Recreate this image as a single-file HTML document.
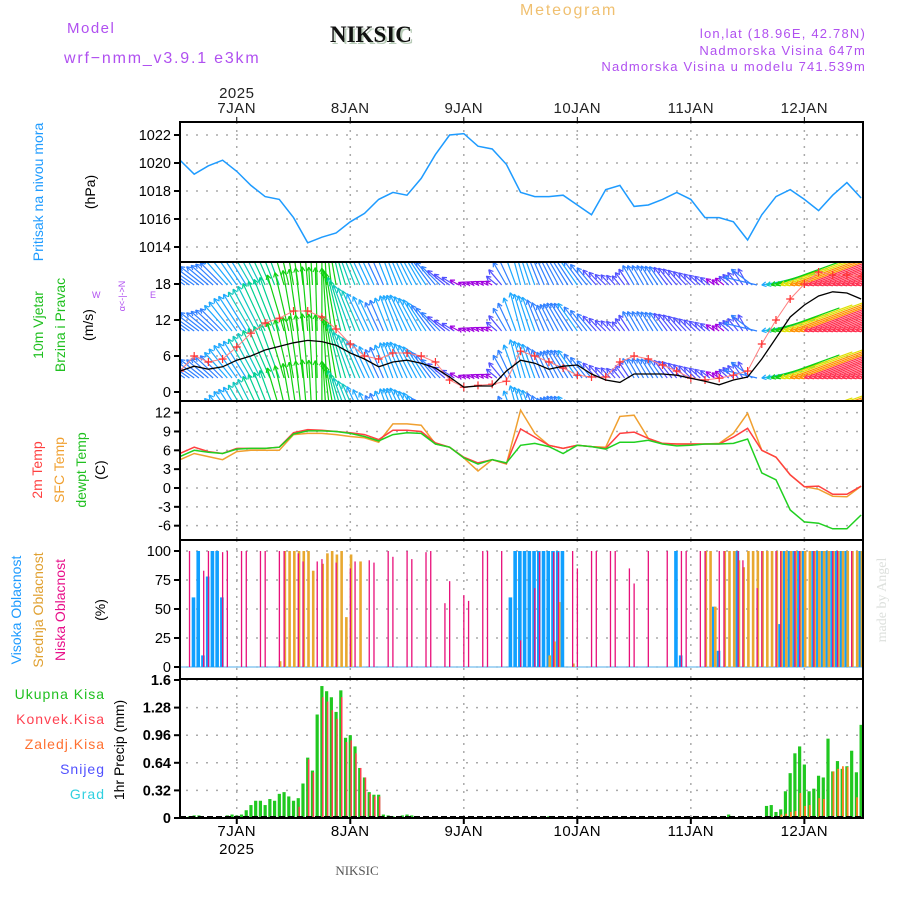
<!DOCTYPE html>
<html><head><meta charset="utf-8"><title>Meteogram NIKSIC</title>
<style>
html,body{margin:0;padding:0;background:#fff;}
svg{display:block;font-family:"Liberation Sans",sans-serif;}
</style></head>
<body>
<svg id="chart" width="900" height="900" viewBox="0 0 900 900" xmlns="http://www.w3.org/2000/svg">
<g id="header">
  <text x="67" y="33" font-size="15" fill="#b050f0" letter-spacing="1.5">Model</text>
  <text x="64" y="63" font-size="16" fill="#b050f0" letter-spacing="1.8">wrf−nmm_v3.9.1 e3km</text>
  <text x="332" y="44" font-size="23" font-weight="bold" font-family="Liberation Serif,serif" fill="#b8ccb8">NIKSIC</text>
  <text x="330" y="42" font-size="23" font-weight="bold" font-family="Liberation Serif,serif" fill="#111">NIKSIC</text>
  <text x="520" y="15" font-size="16" fill="#f0c070" letter-spacing="1.8">Meteogram</text>
  <text x="866" y="38" font-size="13" fill="#b050f0" text-anchor="end" letter-spacing="1.2">lon,lat (18.96E, 42.78N)</text>
  <text x="866" y="55" font-size="13" fill="#b050f0" text-anchor="end" letter-spacing="1.2">Nadmorska Visina 647m</text>
  <text x="866" y="71" font-size="13" fill="#b050f0" text-anchor="end" letter-spacing="1.2">Nadmorska Visina u modelu 741.539m</text>
  <text x="357" y="875" font-size="13" font-family="Liberation Serif,serif" fill="#555" text-anchor="middle">NIKSIC</text>
  <text transform="translate(886,600) rotate(-90)" font-size="14" font-family="Liberation Serif,serif" fill="#dde0dd" text-anchor="middle">made by Angel</text>
</g>
<g id="labels">
  <text transform="translate(43,192) rotate(-90)" font-size="14" fill="#1e9bff" text-anchor="middle">Pritisak na nivou mora</text>
  <text transform="translate(95,192) rotate(-90)" font-size="14" fill="#000" text-anchor="middle">(hPa)</text>
  <text transform="translate(43,325) rotate(-90)" font-size="14" fill="#20c020" text-anchor="middle">10m Vjetar</text>
  <text transform="translate(65,325) rotate(-90)" font-size="14" fill="#20c020" text-anchor="middle">Brzina i Pravac</text>
  <text transform="translate(93,325) rotate(-90)" font-size="14" fill="#000" text-anchor="middle">(m/s)</text>
  <text x="92" y="298" font-size="9" fill="#b050f0">W</text>
  <text x="150" y="298" font-size="9" fill="#b050f0">E</text>
  <text transform="translate(125,296) rotate(-90)" font-size="9" fill="#b050f0" text-anchor="middle">α&lt;-|-&gt;N</text>
  <text transform="translate(42,470) rotate(-90)" font-size="14" fill="#ff4040" text-anchor="middle">2m Temp</text>
  <text transform="translate(64,470) rotate(-90)" font-size="14" fill="#f0a030" text-anchor="middle">SFC Temp</text>
  <text transform="translate(86,470) rotate(-90)" font-size="14" fill="#20c020" text-anchor="middle">dewpt Temp</text>
  <text transform="translate(105,470) rotate(-90)" font-size="14" fill="#000" text-anchor="middle">(C)</text>
  <text transform="translate(21,610) rotate(-90)" font-size="14" fill="#1e9bff" text-anchor="middle">Visoka Oblacnost</text>
  <text transform="translate(43,610) rotate(-90)" font-size="14" fill="#e0a030" text-anchor="middle">Srednja Oblacnost</text>
  <text transform="translate(65,610) rotate(-90)" font-size="14" fill="#e8108a" text-anchor="middle">Niska Oblacnost</text>
  <text transform="translate(105,610) rotate(-90)" font-size="14" fill="#000" text-anchor="middle">(%)</text>
  <text x="105" y="699" font-size="14" fill="#20c020" text-anchor="end" letter-spacing="1">Ukupna Kisa</text>
  <text x="105" y="724" font-size="14" fill="#ff4050" text-anchor="end" letter-spacing="1">Konvek.Kisa</text>
  <text x="105" y="749" font-size="14" fill="#ff7030" text-anchor="end" letter-spacing="1">Zaledj.Kisa</text>
  <text x="105" y="774" font-size="14" fill="#5050ff" text-anchor="end" letter-spacing="1">Snijeg</text>
  <text x="105" y="799" font-size="14" fill="#30d0e0" text-anchor="end" letter-spacing="1">Grad</text>
  <text transform="translate(124,750) rotate(-90)" font-size="14" fill="#000" text-anchor="middle">1hr Precip (mm)</text>
</g>
<g id="plot"></g>
</svg>
<script>
// ---- data (3-hourly, starting 6 JAN 12:00) ----
const pressure = [1020.2,1019.2,1019.8,1020.2,1019.4,1018.4,1017.6,1017.4,1016.1,1014.3,1014.7,1015.0,1015.8,1016.4,1017.4,1017.9,1017.7,1018.9,1020.6,1022.0,1022.1,1021.2,1021.0,1019.9,1017.9,1017.6,1017.6,1017.7,1017.0,1016.3,1018.1,1018.4,1016.9,1017.0,1017.4,1017.9,1017.4,1016.1,1016.1,1015.8,1014.5,1016.3,1017.6,1018.1,1017.4,1016.6,1017.7,1018.6,1017.5];
const windSpeed = [3.5,4.3,3.8,4.2,5.3,6.0,7.0,7.6,8.2,8.6,8.4,7.8,6.5,5.5,4.2,5.0,5.3,4.8,4.0,2.5,0.8,1.0,1.0,3.5,5.3,4.8,3.8,4.3,4.5,3.0,2.0,1.6,3.0,3.0,3.0,2.8,2.3,1.8,1.2,2.0,2.5,5.5,9.0,12.5,14.5,16.0,16.7,16.5,15.5];
const windGust = [3.5,6.0,5.0,5.5,7.5,9.8,11.5,12.3,13.5,13.5,12.5,10.5,8.0,6.0,5.5,6.5,6.5,6.0,5.0,2.0,0.8,1.1,1.3,1.8,6.8,6.0,5.0,4.0,2.8,2.5,2.5,5.0,6.0,5.5,4.5,3.5,2.3,2.0,2.3,2.8,3.5,8.0,12.0,15.5,18.0,20.0,19.5,19.5,19.3];
// direction the arrow points, degrees counter-clockwise from "up" (90 = left, 110 = down-left)
const windDir = [55,55,50,45,35,30,25,20,10,5,0,10,20,25,25,20,25,30,40,55,65,65,60,30,15,20,25,30,35,40,45,40,30,30,35,40,45,50,55,45,30,100,110,110,110,110,110,110,110];
const temp2m = [5.5,6.5,5.8,5.5,6.3,6.3,6.3,6.5,8.8,9.3,9.2,9.0,8.8,8.5,7.7,9.2,9.2,9.0,7.2,6.5,4.9,4.0,4.5,3.9,9.4,8.1,6.8,6.3,6.8,6.6,6.3,8.7,8.9,7.9,7.1,7.0,7.0,7.0,7.0,8.1,9.5,6.0,4.9,2.1,0.2,0.3,-1.0,-1.0,0.3];
const tempSfc = [4.5,5.5,5.0,4.5,5.8,6.0,6.0,6.0,8.5,8.7,8.7,8.5,8.2,8.0,7.3,10.2,10.2,10.0,7.0,6.5,4.8,2.7,4.5,3.8,12.4,8.7,6.8,6.3,6.8,6.6,6.5,11.4,11.6,7.9,7.1,7.0,7.0,7.0,7.1,8.7,11.9,6.0,4.9,2.1,0.2,-0.2,-1.3,-1.4,0.3];
const tempDew = [5.0,6.0,5.7,5.5,6.2,6.3,6.3,6.5,8.6,9.1,9.1,9.0,8.7,8.2,7.5,8.5,8.8,8.7,7.0,6.5,4.8,3.8,4.5,4.0,6.8,7.1,6.6,5.5,6.8,6.6,6.2,7.3,7.3,7.6,7.0,6.7,6.8,7.0,7.0,7.1,7.8,2.4,1.3,-3.5,-5.4,-5.6,-6.5,-6.5,-4.3];
// ---- hourly data as (hour index, value) pairs ----
const precipHours = [2,3,4,10,11,12,13,14,15,16,17,18,19,20,21,22,23,24,25,26,27,28,29,30,31,32,33,34,35,36,37,38,39,40,41,42,43,44,45,46,47,48,49,77,78,79,97,98,115,116,117,124,125,126,127,128,129,130,131,132,133,134,135,136,137,138,139,140,141,142,143,144];
const precipTotal = [0.02,0.03,0.03,0.03,0.04,0.03,0.04,0.09,0.15,0.2,0.2,0.15,0.22,0.2,0.28,0.3,0.25,0.2,0.23,0.4,0.7,0.55,1.2,1.53,1.47,1.4,1.23,1.48,0.93,0.96,0.83,0.58,0.47,0.3,0.27,0.27,0.04,0.03,0.02,0.02,0.03,0.04,0.03,0.01,0.02,0.01,0.01,0.01,0.01,0.04,0.02,0.14,0.15,0.07,0.1,0.31,0.52,0.75,0.83,0.62,0.31,0.34,0.49,0.47,0.92,0.54,0.66,0.57,0.6,0.78,0.53,1.08];
const convHours = [25,27,28,30,31,32,33,34,35,36,37,38,39,40,41,42];
const convVals = [0.13,0.68,0.53,1.4,1.35,1.25,1.15,1.4,0.88,0.9,0.75,0.58,0.47,0.28,0.25,0.25];
const frzHours = [126,127,128,129,130,131,132,133,135,136,138,139,140,141,143];
const frzVals = [0.02,0.04,0.05,0.07,0.08,0.29,0.14,0.15,0.23,0.22,0.54,0.57,0.6,0.59,0.24];
const highHours = [3,4,5,6,7,8,9,70,71,72,73,74,75,76,77,78,79,80,81,105,106,113,114,118,127,128,129,130,131,132,134,135,136,137,138,139,140,141,144];
const highVals = [60,100,10,78,100,100,60,60,100,100,100,100,100,100,100,100,100,100,100,100,10,52,14,100,37,100,100,100,100,100,100,100,100,100,100,100,100,100,100];
const midHours = [21,22,23,24,25,26,27,28,30,31,32,33,34,35,36,38,78,79,80,83,111,112,113,115,116,117,118,119,120,121,122,123,124,125,126,127,128,129,130,131,132,133,134,135,136,137,138,139,140,141,142,143,144];
const midVals = [5,100,100,100,100,100,100,83,89,98,100,97,100,43,97,91,10,22,56,3,100,100,52,100,100,100,92,86,100,100,100,100,100,100,100,100,100,100,100,100,100,100,100,100,100,100,100,100,100,100,100,100,100];
const lowHours = [2,5,6,9,10,13,14,17,18,21,22,25,26,29,30,33,36,37,40,41,44,45,48,49,52,53,56,57,60,61,64,65,68,72,75,76,79,80,83,84,87,88,91,92,95,96,99,103,106,107,110,111,114,115,118,119,122,123,126,127,130,131,134,138,139,142];
const lowVals = [100,83,100,99,100,100,100,100,100,100,100,98,91,91,93,90,85,91,92,90,100,95,100,93,99,100,55,74,62,57,100,100,100,23,68,99,99,99,100,85,100,100,100,100,85,72,100,100,100,100,100,100,100,100,100,92,68,100,100,100,100,100,100,100,100,100];
const dayLabels = ["7JAN","8JAN","9JAN","10JAN","11JAN","12JAN"];
const dayHours = [12,36,60,84,108,132];
const pTicks = [1014,1016,1018,1020,1022];
const wTicks = [0,6,12,18];
const tTicks = [-6,-3,0,3,6,9,12];
const cTicks = [0,25,50,75,100];
const rTicks = [0,0.32,0.64,0.96,1.28,1.6];

// ---- scales ----
const X0=180, X1=863, PX_H=4.73;
const xH = h => X0 + h*PX_H;
const xK = k => xH(k*3);
const yP = p => 135 + (1022-p)*14;
const yW = v => 392 - v*6;
const yT = t => 488 - t*6.28;
const yC = c => 667 - c*1.16;
const yR = r => 818 - r*86.25;
const panels = [[122,262],[262,401],[401,540],[540,679],[679,818]];

const NS="http://www.w3.org/2000/svg";
const plot=document.getElementById('plot');
function mk(tag,attrs,parent){const e=document.createElementNS(NS,tag);for(const k in attrs)e.setAttribute(k,attrs[k]);(parent||plot).appendChild(e);return e;}

const defs=mk('defs',{});
panels.forEach((p,i)=>{const c=mk('clipPath',{id:'clip'+i},defs);mk('rect',{x:X0,y:p[0],width:X1-X0,height:p[1]-p[0]},c);});

function grid(pi,ticks,yf,fmt,gname){
  const g=mk('g',{});
  
  
  const [t,b]=panels[pi];
  dayHours.forEach(h=>{const l=mk('line',{x1:xH(h),x2:xH(h),y1:t,y2:b,stroke:'#aaa','stroke-width':1.5,'stroke-dasharray':'2 6'},g);
    
    });
  ticks.forEach(v=>{const y=yf(v);
    const l=mk('line',{x1:X0+6,x2:X1,y1:y,y2:y,stroke:'#aaa','stroke-width':1.5,'stroke-dasharray':'2 8'},g);
    
    
    const tk=mk('line',{x1:X0-6,x2:X0,y1:y,y2:y,stroke:'#000','stroke-width':2},g);
    
    
    const tx=mk('text',{x:X0-9,y:y+5,'font-size':14.5,'text-anchor':'end',fill:'#000','font-weight':pi===4?'bold':'normal'},g);
    tx.textContent=fmt(v);
    
    });
  return g;
}
grid(0,pTicks,yP,v=>v,'pressure-grid');
grid(1,wTicks,yW,v=>v,'wind-grid');
grid(2,tTicks,yT,v=>v,'temp-grid');
grid(3,cTicks,yC,v=>v,'cloud-grid');
grid(4,rTicks,yR,v=>String(v),'precip-grid');

function line(arr,xf,yf,color,w,clip,name){
  const pts=arr.map((v,k)=>xf(k).toFixed(1)+','+yf(v).toFixed(1)).join(' ');
  const e=mk('polyline',{points:pts,fill:'none',stroke:color,'stroke-width':w,'clip-path':'url(#clip'+clip+')'});
  
  
  return e;
}
line(pressure,xK,yP,'#1e9bff',1.5,0,'pressure-line');

function windColor(s){
  if(s<1.5) return '#a000e0';
  if(s<3) return '#5050ff';
  if(s<4.5) return '#3080ff';
  if(s<5.8) return '#1ea8ff';
  if(s<6.8) return '#10c8c0';
  if(s<7.8) return '#00d090';
  if(s<10) return '#10d010';
  if(s<12) return '#e0e000';
  if(s<14) return '#ff9000';
  return '#ff3050';
}
const wg=mk('g',{'clip-path':'url(#clip1)'});


const rowBases=[238,285,331,378,424];
for(let h=0;h<=145;h++){
  const kf=Math.min(h/3,windSpeed.length-1), k0=Math.floor(kf), k1=Math.min(k0+1,windSpeed.length-1), f=kf-k0;
  const s=windSpeed[k0]*(1-f)+windSpeed[k1]*f;
  const a=(windDir[k0]*(1-f)+windDir[k1]*f)*Math.PI/180;
  const L=Math.max(7.5*s,6);
  const x=xH(h), col=windColor(s);
  const dx=-Math.sin(a), dy=-Math.cos(a);
  rowBases.forEach(b=>{
    let tx,ty,hx,hy;
    if(Math.cos(a)>=0){tx=x;ty=b;hx=x+L*dx;hy=b+L*dy;}
    else{hx=x;hy=b;tx=x-L*dx;ty=b-L*dy;}
    const ar=mk('line',{x1:tx,y1:ty,x2:hx,y2:hy,stroke:col,'stroke-width':1.2},wg);
    
    
    const ang=Math.atan2(hy-ty,hx-tx);
    [0.5,-0.5].forEach(d=>{
      const hl=mk('line',{x1:hx,y1:hy,x2:hx-5*Math.cos(ang+d),y2:hy-5*Math.sin(ang+d),stroke:col,'stroke-width':1.2},wg);
      
      
    });
  });
}
line(windGust,xK,yW,'#ff8080',1,1,'gust-line');
const cg=mk('g',{'clip-path':'url(#clip1)'});


windGust.forEach((v,k)=>{const x=xK(k),y=yW(v);
  const p=mk('path',{d:`M${x-4},${y}H${x+4}M${x},${y-4}V${y+4}`,stroke:'#ff3030','stroke-width':1.2,fill:'none'},cg);
  
  });
line(windSpeed,xK,yW,'#000',1.3,1,'wind-speed-line');

line(tempSfc,xK,yT,'#f0a030',1.5,2,'sfc-temp-line');
line(temp2m,xK,yT,'#ff4040',1.5,2,'temp-2m-line');
line(tempDew,xK,yT,'#20d020',1.5,2,'dewpoint-line');

const clg=mk('g',{'clip-path':'url(#clip3)'});


const zl=mk('line',{x1:X0,x2:X1,y1:667,y2:667,stroke:'#8cc8f0','stroke-width':1.5},clg);


highHours.forEach((h,i)=>{const v=highVals[i];
  const r=mk('rect',{x:xH(h)-2.5,y:yC(v),width:3.6,height:667-yC(v),fill:'#10a0ff'},clg);
  
  });
midHours.forEach((h,i)=>{const v=midVals[i];
  const r=mk('rect',{x:xH(h)-0.5,y:yC(v),width:2.6,height:667-yC(v),fill:'#e8a830'},clg);
  
  });
lowHours.forEach((h,i)=>{const v=lowVals[i];
  const r=mk('rect',{x:xH(h)-0.6,y:yC(v),width:1.3,height:667-yC(v),fill:'#e8107a'},clg);
  
  });

const pg=mk('g',{'clip-path':'url(#clip4)'});


precipHours.forEach((h,i)=>{const v=precipTotal[i];
  const r=mk('rect',{x:xH(h)-1.6,y:yR(v),width:3.2,height:818-yR(v),fill:'#20c820'},pg);
  
  });
convHours.forEach((h,i)=>{const v=convVals[i];
  const r=mk('rect',{x:xH(h)+0.2,y:yR(v),width:1.5,height:818-yR(v),fill:'#ff4050'},pg);
  
  });
frzHours.forEach((h,i)=>{const v=frzVals[i];
  const r=mk('rect',{x:xH(h)-0.2,y:yR(v),width:1.8,height:818-yR(v),fill:'#ff7a20'},pg);
  
  });
const bl=mk('line',{x1:X0,x2:X1,y1:817,y2:817,stroke:'#000','stroke-width':2,'stroke-dasharray':'6 3'},pg);



const fg=mk('g',{});


panels.forEach(p=>{const r=mk('rect',{x:X0,y:p[0],width:X1-X0,height:p[1]-p[0],fill:'none',stroke:'#000','stroke-width':2},fg);
  
  });
dayHours.forEach((h,i)=>{
  const x=xH(h);
  const t1=mk('text',{x:x,y:113,'font-size':15,'text-anchor':'middle',fill:'#222','letter-spacing':0.5},fg);
  t1.textContent=dayLabels[i];
  
  
  const t2=mk('text',{x:x,y:836,'font-size':15,'text-anchor':'middle',fill:'#000','letter-spacing':0.5},fg);
  t2.textContent=dayLabels[i];
  
  
  const tk=mk('line',{x1:x,x2:x,y1:117,y2:122,stroke:'#000','stroke-width':1},fg);
  
  
  const tk2=mk('line',{x1:x,x2:x,y1:818,y2:824,stroke:'#000','stroke-width':2},fg);
  
  
});
const y1=mk('text',{x:xH(12),y:98,'font-size':15,'text-anchor':'middle',fill:'#222','letter-spacing':0.5},fg);
y1.textContent='2025';


const y2=mk('text',{x:xH(12),y:854,'font-size':15,'text-anchor':'middle',fill:'#000','letter-spacing':0.5},fg);
y2.textContent='2025';


</script>
</body></html>
